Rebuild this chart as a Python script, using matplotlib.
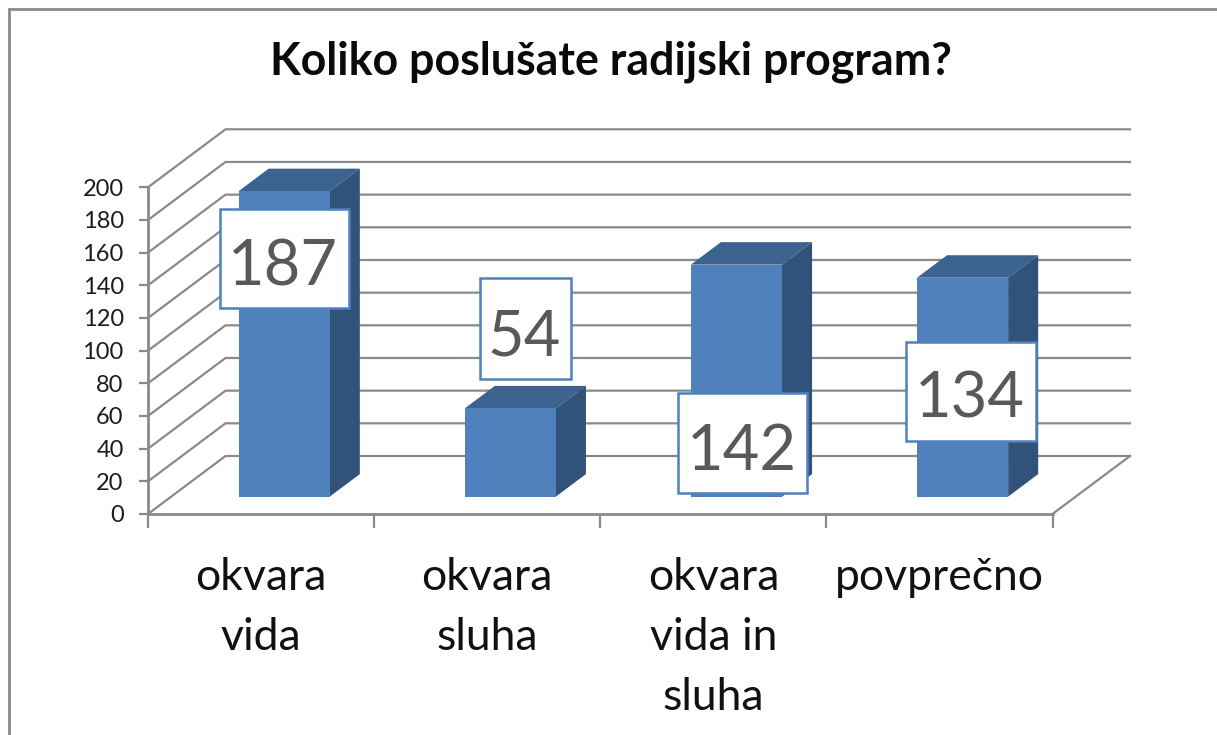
import matplotlib
matplotlib.use("Agg")
import matplotlib.pyplot as plt
from matplotlib.patches import Rectangle

categories = ["okvara\nvida", "okvara\nsluha", "okvara\nvida in\nsluha", "povprečno"]
values = [187, 54, 142, 134]
y_ticks = list(range(0, 201, 20))
title = "Koliko poslušate radijski program?"

W, H = 1217, 735
plt.rcParams["font.family"] = ["Lato", "DejaVu Sans"]
GRID = "#8a8a8a"
FRONT, SIDE, TOP = "#4f81bd", "#325379", "#3c6290"

fig = plt.figure(figsize=(W / 100, H / 100), dpi=100, facecolor="white")
X0, X1, Y0, Y200 = 148, 1052.5, 514, 187.3
ax = fig.add_axes([X0 / W, 1 - Y0 / H, (X1 - X0) / W, (Y0 - Y200) / H])
ax.set_xlim(0, 4)
ax.set_ylim(0, 200)
ax.patch.set_visible(False)
for s in ax.spines.values():
    s.set_visible(False)

# depth of the chart box, in data units
DX = 77.5 / ((X1 - X0) / 4)
DY = 58 / ((Y0 - Y200) / 200)


def proj(x, v, d):
    return x + d * DX, v + d * DY


# walls
for v in y_ticks:
    a = proj(0, v, 0)
    b = proj(0, v, 1)
    c = proj(4, v, 1)
    ax.plot([a[0], b[0], c[0]], [a[1], b[1], c[1]], color=GRID, lw=1.6, clip_on=False, zorder=1,
            solid_joinstyle="miter")
a, b = proj(4, 0, 0), proj(4, 0, 1)
ax.plot([a[0], b[0]], [a[1], b[1]], color=GRID, lw=1.6, clip_on=False, zorder=1)
ax.plot([0, 4], [0, 0], color=GRID, lw=2.0, clip_on=False, zorder=1)
ax.plot([0, 0], [0, 200], color=GRID, lw=2.0, clip_on=False, zorder=1)

# bars
GAP, BW, D0, D1 = 0.298, 0.403, 0.3, 0.688
for i, v in enumerate(values):
    l, r = i + GAP, i + GAP + BW
    quads = [
        ([(l, v, D0), (r, v, D0), (r, v, D1), (l, v, D1)], TOP),
        ([(r, 0, D0), (r, 0, D1), (r, v, D1), (r, v, D0)], SIDE),
        ([(l, 0, D0), (r, 0, D0), (r, v, D0), (l, v, D0)], FRONT),
    ]
    for pts, col in quads:
        xy = [proj(*p) for p in pts]
        ax.fill([p[0] for p in xy], [p[1] for p in xy], color=col, lw=0, zorder=3, clip_on=False)

# axes ticks and labels
ax.set_yticks(y_ticks)
ax.set_yticklabels([str(t) for t in y_ticks], fontsize=17, color="#1c1c1c")
ax.tick_params(axis="y", length=6.5, width=1.6, color=GRID, pad=11)
ax.set_xticks(range(5))
ax.set_xticklabels([""] * 5)
ax.tick_params(axis="x", length=10, width=1.6, color=GRID)
ax.set_xticks([i + 0.5 for i in range(4)], minor=True)
ax.set_xticklabels(categories, minor=True, fontsize=32, color="#111111", linespacing=1.58)
ax.tick_params(axis="x", which="minor", length=0, pad=31)

fig.text(611 / W, 1 - 62 / H, title, ha="center", va="center", fontsize=32.2, fontweight="bold", color="#0a0a0a")

# data label boxes (left, top, right, bottom in figure pixels)
label_boxes = [(219.5, 209, 349, 308), (480, 278, 571, 379), (678, 393, 807, 493), (906, 342, 1036, 441)]
for v, (l, t, r, b) in zip(values, label_boxes):
    fig.add_artist(Rectangle((l / W, 1 - b / H), (r - l) / W, (b - t) / H, transform=fig.transFigure,
                             facecolor="white", edgecolor=FRONT, lw=1.8, zorder=5))
    fig.text((l + r) / 2 / W - 1 / W, 1 - ((t + b) / 2 + 3) / H, str(v), ha="center", va="center_baseline",
             fontsize=45.5, color="#595959", zorder=6)

# outer frame
fig.add_artist(plt.Line2D([8.5 / W, 8.5 / W, 1], [0, 1 - 9 / H, 1 - 9 / H], transform=fig.transFigure,
                          color="#8a8a8a", lw=2.0, solid_joinstyle="miter"))

fig.savefig("out.png", dpi=100)
